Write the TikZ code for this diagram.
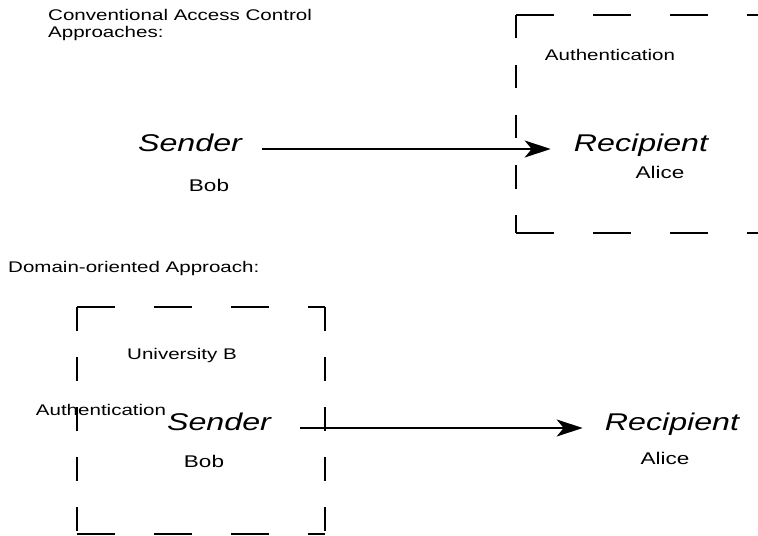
\documentclass[tikz,border=0pt]{standalone}
\usepackage{fontspec}
\usetikzlibrary{arrows.meta}
\newfontfamily\lab{Liberation Sans}[FakeStretch=1.33]
\begin{document}
\begin{tikzpicture}[x=1bp,y=-1bp,
  textlbl/.style={inner sep=0pt, font=\lab\fontsize{15.5}{17}\selectfont},
  personlbl/.style={inner sep=0pt, font=\lab\fontsize{17}{19}\selectfont},
  rolelbl/.style={inner sep=0pt, text height=0.75em, text depth=0.25em,
               font=\lab\itshape\fontsize{24.3}{27}\selectfont},
  flow/.style={line width=1.8bp, -{Stealth[length=26bp,width=17bp,inset=7bp]}},
  hside/.style={line width=1.3bp, dash pattern=on 37.5bp off 39.5bp},
  vside/.style={line width=1.3bp, dash pattern=on 23.5bp off 26.5bp}]
\useasboundingbox (0,0) rectangle (758,536);
\clip (0,0) rectangle (758,536);

% ---------- conventional approach ----------
\node[textlbl, anchor=base west] (h1a) at (48,21) {Conventional Access Control};
\node[textlbl, anchor=base west] (h1b) at (48,38) {Approaches:};

% authentication domain around the recipient (open to the right)
\draw[hside] (516,15) -- (800,15);
\draw[hside] (516,233) -- (800,233);
\draw[vside] (516,15) -- (516,233);

\node[textlbl, anchor=base] (authA) at (610,61) {Authentication};
\node[rolelbl] (sendA) at (190,149) {Sender};
\node[personlbl] (bobA) at (209,185) {Bob};
\node[rolelbl] (recA) at (641,149) {Recipient};
\node[personlbl] (aliceA) at (660,172) {Alice};
\draw[flow, shorten <=20bp, shorten >=23bp] (sendA) -- (recA);

% ---------- domain-oriented approach ----------
\node[textlbl, anchor=base west] (h2) at (8,273) {Domain-oriented Approach:};

% sender's home domain
\draw[hside] (77,307) -- (325,307);
\draw[hside] (77,534) -- (325,534);
\draw[vside] (77,307) -- (77,534);
\draw[vside] (325,307) -- (325,534);

\node[textlbl, anchor=base] (univ) at (182,359) {University B};
\node[textlbl, anchor=base] (authB) at (101,415) {Authentication};
\node[rolelbl] (sendB) at (219,428) {Sender};
\node[personlbl] (bobB) at (204,461) {Bob};
\node[rolelbl] (recB) at (672,428) {Recipient};
\node[personlbl] (aliceB) at (665,458) {Alice};
\draw[flow, shorten <=29bp, shorten >=22bp] (sendB) -- (recB);
\end{tikzpicture}
\end{document}
